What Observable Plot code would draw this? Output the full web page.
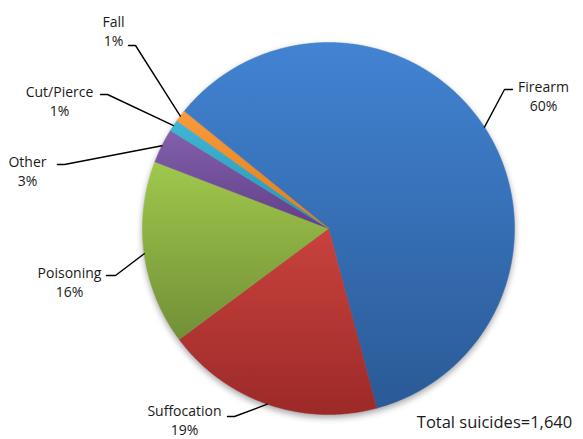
<!DOCTYPE html>
<html><head><meta charset="utf-8">
<script src="https://cdn.jsdelivr.net/npm/d3@7"></script>
<script src="https://cdn.jsdelivr.net/npm/@observablehq/plot@0.6"></script>
<style>
body{margin:0;background:#fff}
#chart{width:583px;height:439px}
</style>
</head><body><div id="chart"></div>
<script>
// ---- data ----
const categories = ["Firearm", "Suffocation", "Poisoning", "Other", "Cut/Pierce", "Fall"];
const percents = [60, 19, 16, 3, 1, 1];
const totalSuicides = 1640;
const colorsTop = ["#4283D2", "#C9423E", "#A0C84C", "#8260AA", "#3FB6D6", "#FA9A3C"];
const colorsBottom = ["#2A5A96", "#9C2A28", "#728F37", "#623F88", "#2A93B0", "#E07D18"];

// ---- layout ----
const W = 583, H = 439, CX = 328, CY = 228, R = 186;
const startDeg = -51;
const toU = (px, py) => [(px - CX) / R, (CY - py) / R];
const labelCenters = [[543, 95], [184, 419], [69, 281], [27, 170], [59, 99.5], [113, 29.5]];
const leaderStarts = [[512, 89], [227, 416], [106, 275], [57, 164], [100, 94], [128, 45]];
const leaderElbows = [[504, 89], [234, 416], [115, 275], [64, 164], [107, 94], [135, 45]];
const totalPos = [494, 422];

const pie = d3.pie().sort(null).value(d => d)
  .startAngle(startDeg * Math.PI / 180)
  .endAngle(startDeg * Math.PI / 180 + 2 * Math.PI);
const arcs = pie(percents);

const slicePts = [];
arcs.forEach((a, i) => {
  const cat = categories[i];
  slicePts.push({cat, x: 0, y: 0});
  const n = Math.max(2, Math.ceil((a.endAngle - a.startAngle) / (Math.PI / 360)));
  for (let k = 0; k <= n; k++) {
    const t = a.startAngle + (a.endAngle - a.startAngle) * k / n;
    slicePts.push({cat, x: Math.sin(t), y: Math.cos(t)});
  }
});

const leaderPts = [];
arcs.forEach((a, i) => {
  const cat = categories[i];
  const m = (a.startAngle + a.endAngle) / 2;
  const s = toU(...leaderStarts[i]), e = toU(...leaderElbows[i]);
  leaderPts.push({cat, x: s[0], y: s[1]});
  leaderPts.push({cat, x: e[0], y: e[1]});
  leaderPts.push({cat, x: Math.sin(m), y: Math.cos(m)});
});

const labels = categories.map((c, i) => {
  const [x, y] = toU(...labelCenters[i]);
  return {text: `${c}\n${percents[i]}%`, x, y};
});
const tp = toU(...totalPos);
const totalLabel = [{text: `Total suicides=${d3.format(",")(totalSuicides)}`, x: tp[0], y: tp[1]}];

const font = "Open Sans, Noto Sans, sans-serif";
let chart;
chart = Plot.plot({
  width: W, height: H, margin: 0,
  x: {domain: [-CX / R, (W - CX) / R], axis: null},
  y: {domain: [(CY - H) / R, CY / R], axis: null},
  color: {domain: categories, range: colorsTop},
  marks: [
    Plot.line(slicePts, {x: "x", y: "y", z: "cat", fill: "cat", stroke: "cat", strokeWidth: 0.5, curve: "linear-closed"}),
    Plot.line(leaderPts, {x: "x", y: "y", z: "cat", stroke: "#000", strokeWidth: 1.4}),
    Plot.text(labels, {x: "x", y: "y", text: "text", fontSize: 14, fontFamily: font, fill: "#1a1a1a", lineHeight: 1.36, lineAnchor: "middle", textAnchor: "middle"}),
    Plot.text(totalLabel, {x: "x", y: "y", text: "text", fontSize: 16.5, fontFamily: font, fill: "#1a1a1a", lineAnchor: "middle", textAnchor: "middle"})
  ]
});
document.getElementById("chart").appendChild(chart);

// gradients applied to the pie slices
try {
  const ns = "http://www.w3.org/2000/svg";
  const defs = document.createElementNS(ns, "defs");
  categories.forEach((c, i) => {
    const g = document.createElementNS(ns, "linearGradient");
    g.setAttribute("id", `grad${i}`);
    g.setAttribute("x1", "0"); g.setAttribute("y1", "0");
    g.setAttribute("x2", "0"); g.setAttribute("y2", "1");
    [[0, colorsTop[i]], [1, colorsBottom[i]]].forEach(([o, col]) => {
      const s = document.createElementNS(ns, "stop");
      s.setAttribute("offset", String(o)); s.setAttribute("stop-color", col);
      g.appendChild(s);
    });
    defs.appendChild(g);
  });
  chart.appendChild(defs);
  const pieG = chart.querySelector('g[aria-label="line"]');
  const lut = new Map(colorsTop.map((c, i) => [d3.color(c).formatHex().toLowerCase(), i]));
  pieG.querySelectorAll("path").forEach(p => {
    const f = p.getAttribute("fill");
    if (!f) return;
    const i = lut.get(d3.color(f).formatHex().toLowerCase());
    if (i !== undefined) { p.setAttribute("fill", `url(#grad${i})`); p.setAttribute("stroke", `url(#grad${i})`); }
  });
  pieG.style.filter = "drop-shadow(0px 3px 3px rgba(0,0,0,0.35))";
} catch (e) {}
</script>
</body></html>
